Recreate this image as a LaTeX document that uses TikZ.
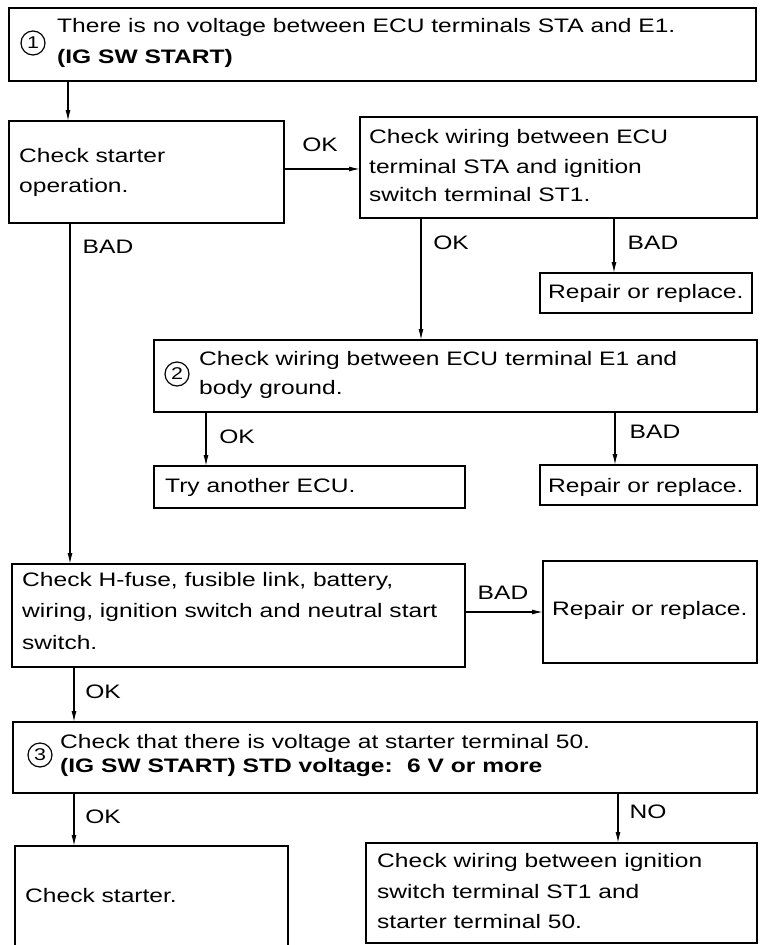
\documentclass[tikz,border=0pt]{standalone}
\usepackage{fontspec}
\setmainfont{Liberation Sans}[FakeStretch=1.26]
\usetikzlibrary{arrows.meta}
\newcommand\fsz{\fontsize{19.5}{30}\selectfont}
\begin{document}
\begin{tikzpicture}[x=1pt, y=-1pt,
  box/.style={draw, line width=1.6pt, inner sep=0pt, outer sep=0pt, anchor=north west},
  openbox/.style={inner sep=0pt, outer sep=0pt, anchor=north west},
  boxline/.style={line width=1.6pt},
  txt/.style={anchor=base west, inner sep=0pt, font=\fsz},
  lbl/.style={inner sep=0pt, font=\fsz},
  ln/.style={line width=1.2pt},
  arr/.style={line width=1.2pt, -{Latex[length=11pt,width=5pt]}},
  num/.style={circle, draw, line width=1.2pt, minimum size=24pt, inner sep=0pt, font=\fontsize{17}{17}\selectfont}]
\useasboundingbox (0,0) rectangle (760,945);

% ---------- boxes ----------
\node[box, minimum width=747pt, minimum height=73pt] (b1) at (9,8) {};
\node[box, minimum width=275pt, minimum height=102pt] (b2) at (9,121) {};
\node[box, minimum width=397pt, minimum height=101pt] (b3) at (360,117) {};
\node[box, minimum width=212pt, minimum height=40pt] (r1) at (540,273) {};
\node[box, minimum width=603pt, minimum height=72pt] (b4) at (154,340) {};
\node[box, minimum width=311pt, minimum height=42pt] (b5) at (154,466) {};
\node[box, minimum width=217pt, minimum height=40pt] (r2) at (540,465) {};
\node[box, minimum width=453pt, minimum height=103pt] (b6) at (12,564) {};
\node[box, minimum width=214pt, minimum height=102pt] (r3) at (543,561) {};
\node[box, minimum width=744pt, minimum height=71pt] (b7) at (13,722) {};
\node[openbox, minimum width=273pt, minimum height=99pt] (b8) at (15,846) {};
\draw[boxline] (b8.south west) -- (b8.north west) -- (b8.north east) -- (b8.south east);
\node[box, minimum width=391pt, minimum height=100pt] (b9) at (366,843) {};

% ---------- circled numbers ----------
\node[num] (n1) at (33,43) {1};
\node[num] (n2) at (177,374) {2};
\node[num] (n3) at (40,755) {3};

% ---------- texts ----------
\node[txt] (t1a) at (57,32) {There is no voltage between ECU terminals STA and E1.};
\node[txt] (t1b) at (57,63) {\bfseries (IG SW START)};

\node[txt] (t2a) at (19,162) {Check starter};
\node[txt] (t2b) at (19,192) {operation.};

\node[txt] (t3a) at (369,143) {Check wiring between ECU};
\node[txt] (t3b) at (369,173) {terminal STA and ignition};
\node[txt] (t3c) at (369,201) {switch terminal ST1.};

\node[txt] (tr1) at (548,298) {Repair or replace.};

\node[txt] (t4a) at (199,365) {Check wiring between ECU terminal E1 and};
\node[txt] (t4b) at (199,394) {body ground.};

\node[txt] (t5) at (165,492) {Try another ECU.};
\node[txt] (tr2) at (548,492) {Repair or replace.};

\node[txt] (t6a) at (22,586) {Check H-fuse, fusible link, battery,};
\node[txt] (t6b) at (22,617) {wiring, ignition switch and neutral start};
\node[txt] (t6c) at (22,649) {switch.};

\node[txt] (tr3) at (552,615) {Repair or replace.};

\node[txt] (t7a) at (60,748) {Check that there is voltage at starter terminal 50.};
\node[txt] (t7b) at (60,772) {\bfseries (IG SW START) STD voltage:};
\node[txt] (t7c) at (407,772) {\bfseries 6 V or more};

\node[txt] (t8) at (25,902) {Check starter.};

\node[txt] (t9a) at (377,867) {Check wiring between ignition};
\node[txt] (t9b) at (377,898) {switch terminal ST1 and};
\node[txt] (t9c) at (377,928) {starter terminal 50.};

% ---------- connector positions ----------
\coordinate (xA) at (68,0);
\coordinate (xB) at (70,0);
\coordinate (xC) at (421,0);
\coordinate (xD) at (614,0);
\coordinate (xE) at (206,0);
\coordinate (xF) at (615,0);
\coordinate (xG) at (74,0);
\coordinate (xH) at (618,0);
\coordinate (yA) at (0,169);
\coordinate (yB) at (0,612);

% ---------- connectors ----------
\draw[arr] (b1.south -| xA) -- (b2.north -| xA);
\draw[arr] (b2.east |- yA) -- (b3.west |- yA);
\draw[arr] (b2.south -| xB) -- (b6.north -| xB);
\draw[arr] (b3.south -| xC) -- (b4.north -| xC);
\draw[arr] (b3.south -| xD) -- (r1.north -| xD);
\draw[arr] (b4.south -| xE) -- (b5.north -| xE);
\draw[arr] (b4.south -| xF) -- (r2.north -| xF);
\draw[arr] (b6.east |- yB) -- (r3.west |- yB);
\draw[arr] (b6.south -| xG) -- (b7.north -| xG);
\draw[arr] (b7.south -| xG) -- (b8.north -| xG);
\draw[arr] (b7.south -| xH) -- (b9.north -| xH);

% ---------- connector labels ----------
\node[lbl] (l1) at (320,145) {OK};
\node[lbl] (l2) at (108,247) {BAD};
\node[lbl] (l3) at (451,243) {OK};
\node[lbl] (l4) at (653,243) {BAD};
\node[lbl] (l5) at (237,437) {OK};
\node[lbl] (l6) at (655,432) {BAD};
\node[lbl] (l7) at (503,593) {BAD};
\node[lbl] (l8) at (103,692) {OK};
\node[lbl] (l9) at (103,817) {OK};
\node[lbl] (l10) at (648,812) {NO};
\end{tikzpicture}
\end{document}
